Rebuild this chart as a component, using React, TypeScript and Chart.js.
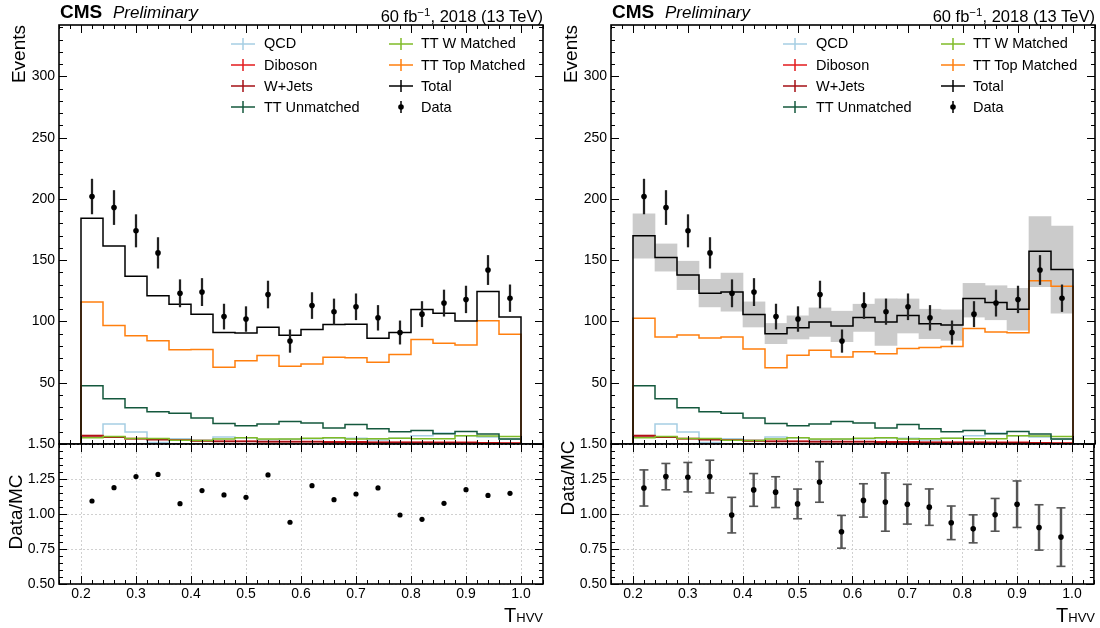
import React, { useEffect, useRef } from "react";
import { Chart, registerables } from "chart.js";

Chart.register(...registerables);

const FONT = '"Liberation Sans", Arial, Helvetica, sans-serif';

// ---------------- data ----------------
const binEdges = [0.2, 0.24, 0.28, 0.32, 0.36, 0.4, 0.44, 0.48, 0.52, 0.56, 0.6, 0.64, 0.68, 0.72, 0.76, 0.8, 0.84, 0.88, 0.92, 0.96, 1.0];
const binCenters = [0.22, 0.26, 0.3, 0.34, 0.38, 0.42, 0.46, 0.5, 0.54, 0.58, 0.62, 0.66, 0.7, 0.74, 0.78, 0.82, 0.86, 0.9, 0.94, 0.98];

const dataCounts = [202, 193, 174, 156, 123, 124, 104, 102, 122, 84, 113, 108, 112, 103, 91, 106, 115, 118, 142, 119];
const dataErr = [14.2, 13.9, 13.2, 12.5, 11.1, 11.1, 10.2, 10.1, 11.0, 9.2, 10.6, 10.4, 10.6, 10.1, 9.5, 10.3, 10.7, 10.9, 11.9, 10.9];

const qcd = [7.0, 16.3, 9.8, 1.3, 4.3, 3.0, 5.7, 5.0, 3.5, 3.8, 4.3, 4.9, 4.6, 3.3, 4.6, 6.8, 9.0, 6.8, 5.7, 3.8];
const diboson = [7.0, 5.8, 4.5, 4.0, 3.2, 2.8, 2.2, 2.2, 2.0, 2.0, 2.0, 1.8, 1.8, 1.5, 1.5, 1.5, 1.4, 1.4, 1.0, 0.8];
const wjets = [6.5, 5.5, 4.2, 3.5, 3.0, 2.5, 2.0, 2.0, 1.8, 1.8, 1.8, 1.5, 1.5, 1.2, 1.2, 1.2, 1.0, 1.0, 0.6, 0.5];
const ttUnmatched = [47.5, 36.9, 29.6, 26.3, 25.2, 21.2, 16.8, 14.9, 16.3, 18.4, 17.1, 13.0, 16.0, 12.5, 10.0, 11.1, 8.4, 10.3, 8.1, 4.1];
const ttWMatched = [5.0, 6.2, 4.5, 4.5, 3.0, 2.8, 4.0, 5.2, 4.0, 4.0, 4.6, 5.2, 4.0, 4.3, 4.6, 4.3, 4.3, 6.8, 6.5, 6.2];

// left panel
const ttTopLeft = [116.0, 96.7, 88.3, 84.2, 76.9, 77.1, 62.7, 67.9, 72.2, 63.5, 65.2, 70.9, 70.3, 66.8, 73.0, 85.2, 82.3, 80.9, 100.7, 89.6];
const totalLeft = [184.2, 161.6, 136.9, 121.1, 114.1, 105.9, 91.0, 90.7, 95.3, 88.8, 93.4, 97.5, 97.8, 86.4, 91.0, 109.8, 106.8, 100.3, 124.5, 103.6];
const ratioLeft = [1.093, 1.188, 1.267, 1.283, 1.074, 1.167, 1.136, 1.119, 1.279, 0.941, 1.202, 1.102, 1.143, 1.186, 0.993, 0.962, 1.076, 1.174, 1.133, 1.148];

// right panel
const ttTopRight = [102.7, 87.3, 88.9, 86.5, 87.3, 77.6, 62.2, 72.4, 76.5, 71.1, 75.2, 73.6, 77.9, 78.7, 79.5, 94.3, 91.4, 90.8, 133.3, 128.7];
const totalRight = [170.0, 152.2, 137.9, 123.0, 124.1, 105.7, 90.0, 94.9, 99.5, 96.3, 103.3, 99.5, 104.9, 98.1, 97.1, 118.7, 115.4, 110.0, 157.3, 142.5];
const bandHiRight = [187.9, 163.3, 149.2, 134.4, 139.5, 116.0, 98.4, 104.6, 111.1, 108.4, 114.1, 118.4, 118.4, 110.0, 109.5, 131.1, 129.2, 127.1, 185.7, 177.9];
const bandLoRight = [151.7, 141.1, 126.0, 111.9, 108.4, 95.5, 81.9, 85.7, 87.8, 83.5, 91.9, 80.5, 90.6, 86.0, 84.6, 103.6, 101.4, 93.0, 128.4, 106.8];
const ratioRight = [1.186, 1.267, 1.263, 1.267, 0.992, 1.172, 1.156, 1.072, 1.229, 0.873, 1.097, 1.085, 1.07, 1.049, 0.937, 0.894, 0.994, 1.07, 0.904, 0.835];
const ratioRightErr = [0.129, 0.094, 0.105, 0.117, 0.127, 0.117, 0.11, 0.106, 0.145, 0.117, 0.119, 0.208, 0.142, 0.13, 0.12, 0.1, 0.117, 0.166, 0.162, 0.209];

// ticks
const xTickValues = [0.2, 0.3, 0.4, 0.5, 0.6, 0.7, 0.8, 0.9, 1.0];
const mainYTickValues = [0, 50, 100, 150, 200, 250, 300];
const ratioYTickValues = [0.5, 0.75, 1.0, 1.25, 1.5];

// ---------------- styles ----------------
const COLORS = {
  qcd: "#a6cee3",
  diboson: "#e31a1c",
  wjets: "#a50f15",
  ttUnmatched: "#14583d",
  ttW: "#7fbb27",
  ttTop: "#ff7f0e",
  total: "#000000",
  band: "#cbcbcb",
};

const X_MIN = 0.16;
const X_MAX = 1.04;
const OX_RIGHT = 552;

function stepDataset(vals: number[], color: string, order: number) {
  const pts: { x: number; y: number }[] = [{ x: binEdges[0], y: 0 }];
  vals.forEach((v, i) => pts.push({ x: binEdges[i], y: v }));
  pts.push({ x: binEdges[binEdges.length - 1], y: vals[vals.length - 1] });
  pts.push({ x: binEdges[binEdges.length - 1], y: 0 });
  return {
    type: "line",
    data: pts,
    borderColor: color,
    borderWidth: 1.5,
    pointRadius: 0,
    fill: false,
    stepped: "before",
    order,
  };
}

const decorPlugin = {
  id: "decor",
  beforeDatasetsDraw(chart: any, _args: any, opts: any) {
    if (!opts || !opts.grid) return;
    const { ctx, chartArea: a, scales } = chart;
    const xs = scales.x;
    const ys = scales.y;
    ctx.save();
    ctx.strokeStyle = "#d0d0d0";
    ctx.lineWidth = 1;
    ctx.setLineDash([2, 2]);
    xTickValues.forEach((v) => {
      const px = Math.round(xs.getPixelForValue(v)) + 0.5;
      ctx.beginPath();
      ctx.moveTo(px, a.top);
      ctx.lineTo(px, a.bottom);
      ctx.stroke();
    });
    ratioYTickValues.forEach((v) => {
      const py = Math.round(ys.getPixelForValue(v)) + 0.5;
      ctx.beginPath();
      ctx.moveTo(a.left, py);
      ctx.lineTo(a.right, py);
      ctx.stroke();
    });
    ctx.restore();
  },
  afterDatasetsDraw(chart: any, _args: any, opts: any) {
    const { ctx, chartArea: a, scales } = chart;
    const xs = scales.x;
    const ys = scales.y;
    ctx.save();
    ctx.strokeStyle = "#000";
    ctx.lineWidth = 1;
    const isMajor = (v: number, major: number) => Math.abs(v / major - Math.round(v / major)) < 1e-6;
    const MAJ = 8;
    const MIN = 4;
    for (let i = Math.ceil(xs.min / opts.xMinor - 1e-6); i * opts.xMinor <= xs.max + 1e-9; i++) {
      const v = i * opts.xMinor;
      const len = isMajor(v, opts.xMajor) ? MAJ : MIN;
      const px = Math.round(xs.getPixelForValue(v)) + 0.5;
      ctx.beginPath();
      ctx.moveTo(px, a.bottom);
      ctx.lineTo(px, a.bottom - len);
      ctx.moveTo(px, a.top);
      ctx.lineTo(px, a.top + len);
      ctx.stroke();
    }
    for (let i = Math.ceil(ys.min / opts.yMinor - 1e-6); i * opts.yMinor <= ys.max + 1e-9; i++) {
      const v = i * opts.yMinor;
      const len = isMajor(v, opts.yMajor) ? MAJ : MIN;
      const py = Math.round(ys.getPixelForValue(v)) + 0.5;
      ctx.beginPath();
      ctx.moveTo(a.left, py);
      ctx.lineTo(a.left + len, py);
      ctx.moveTo(a.right, py);
      ctx.lineTo(a.right - len, py);
      ctx.stroke();
    }
    ctx.lineWidth = 1.6;
    ctx.strokeRect(a.left, a.top, a.right - a.left, a.bottom - a.top);
    ctx.restore();
  },
};

const tickFont = { family: FONT, size: 14 };

function MainChart({ ox, total, top, bandHi, bandLo }: any) {
  const ref = useRef<HTMLCanvasElement>(null);
  useEffect(() => {
    const datasets: any[] = [];
    if (bandHi && bandLo) {
      datasets.push({
        type: "bar",
        data: binCenters.map((x, i) => ({ x, y: [bandLo[i], bandHi[i]] })),
        backgroundColor: COLORS.band,
        borderWidth: 0,
        barPercentage: 1,
        categoryPercentage: 1,
        grouped: false,
        order: 30,
      });
    }
    datasets.push(stepDataset(qcd, COLORS.qcd, 20));
    datasets.push(stepDataset(diboson, COLORS.diboson, 19));
    datasets.push(stepDataset(wjets, COLORS.wjets, 18));
    datasets.push(stepDataset(ttWMatched, COLORS.ttW, 17));
    datasets.push(stepDataset(ttUnmatched, COLORS.ttUnmatched, 16));
    datasets.push(stepDataset(top, COLORS.ttTop, 15));
    datasets.push(stepDataset(total, COLORS.total, 10));
    datasets.push({
      type: "bar",
      data: binCenters.map((x, i) => ({ x, y: [dataCounts[i] - dataErr[i], dataCounts[i] + dataErr[i]] })),
      backgroundColor: "#222",
      borderWidth: 0,
      barThickness: 1.6,
      grouped: false,
      order: 5,
    });
    datasets.push({
      type: "scatter",
      data: binCenters.map((x, i) => ({ x, y: dataCounts[i] })),
      pointRadius: 2.8,
      pointBackgroundColor: "#000",
      pointBorderWidth: 0,
      order: 1,
    });
    const chart = new Chart(ref.current as HTMLCanvasElement, {
      type: "scatter",
      data: { datasets },
      options: {
        animation: false,
        responsive: false,
        maintainAspectRatio: false,
        events: [],
        layout: { padding: { left: 0, top: 25, right: 5, bottom: 16 } },
        plugins: {
          legend: { display: false },
          tooltip: { enabled: false },
          decor: { xMinor: 0.02, xMajor: 0.1, yMinor: 10, yMajor: 50, grid: false },
        },
        scales: {
          x: { type: "linear", min: X_MIN, max: X_MAX, offset: false, display: false },
          y: {
            type: "linear",
            min: 0,
            max: 342,
            afterFit: (s: any) => {
              s.width = 59;
            },
            afterBuildTicks: (s: any) => {
              s.ticks = mainYTickValues.map((v) => ({ value: v }));
            },
            grid: { display: false, drawTicks: false },
            border: { display: false },
            ticks: {
              padding: 4,
              color: "#000",
              font: tickFont,
              callback: (v: any) => (v === 0 ? "" : String(v)),
            },
          },
        },
      } as any,
      plugins: [decorPlugin as any],
    } as any);
    return () => chart.destroy();
  }, []);
  return (
    <canvas
      ref={ref}
      width={548}
      height={460}
      style={{ position: "absolute", left: ox, top: 0, width: 548, height: 460 }}
    />
  );
}

function RatioChart({ ox, ratio, ratioErr }: any) {
  const ref = useRef<HTMLCanvasElement>(null);
  useEffect(() => {
    const datasets: any[] = [];
    if (ratioErr) {
      datasets.push({
        type: "bar",
        data: binCenters.map((x, i) => ({ x, y: [ratio[i] - ratioErr[i], ratio[i] + ratioErr[i]] })),
        backgroundColor: "#555",
        borderWidth: 0,
        barThickness: 1.8,
        grouped: false,
        order: 5,
      });
      datasets.push({
        type: "scatter",
        data: binCenters
          .map((x, i) => ({ x, y: ratio[i] + ratioErr[i] }))
          .concat(binCenters.map((x, i) => ({ x, y: ratio[i] - ratioErr[i] }))),
        pointStyle: "line",
        pointRadius: 4.5,
        pointBorderColor: "#555",
        pointBorderWidth: 1.6,
        order: 4,
      });
    }
    datasets.push({
      type: "scatter",
      data: binCenters.map((x, i) => ({ x, y: ratio[i] })),
      pointRadius: ratioErr ? 2.8 : 2.6,
      pointBackgroundColor: "#000",
      pointBorderWidth: 0,
      order: 1,
    });
    const chart = new Chart(ref.current as HTMLCanvasElement, {
      type: "scatter",
      data: { datasets },
      options: {
        animation: false,
        responsive: false,
        maintainAspectRatio: false,
        events: [],
        layout: { padding: { left: 0, top: 14, right: 5, bottom: 0 } },
        plugins: {
          legend: { display: false },
          tooltip: { enabled: false },
          decor: { xMinor: 0.02, xMajor: 0.1, yMinor: 0.05, yMajor: 0.25, grid: true },
        },
        scales: {
          x: {
            type: "linear",
            min: X_MIN,
            max: X_MAX,
            offset: false,
            afterFit: (s: any) => {
              s.height = 44;
            },
            afterBuildTicks: (s: any) => {
              s.ticks = xTickValues.map((v) => ({ value: v }));
            },
            grid: { display: false, drawTicks: false, offset: false },
            border: { display: false },
            ticks: {
              padding: 2,
              color: "#000",
              font: tickFont,
              maxRotation: 0,
              autoSkip: false,
              callback: (v: any) => Number(v).toFixed(1),
            },
          },
          y: {
            type: "linear",
            min: 0.5,
            max: 1.5,
            afterFit: (s: any) => {
              s.width = 59;
            },
            afterBuildTicks: (s: any) => {
              s.ticks = ratioYTickValues.map((v) => ({ value: v }));
            },
            grid: { display: false, drawTicks: false },
            border: { display: false },
            ticks: {
              padding: 4,
              color: "#000",
              font: tickFont,
              callback: (v: any) => Number(v).toFixed(2),
            },
          },
        },
      } as any,
      plugins: [decorPlugin as any],
    } as any);
    return () => chart.destroy();
  }, []);
  return (
    <canvas
      ref={ref}
      width={548}
      height={198}
      style={{ position: "absolute", left: ox, top: 430, width: 548, height: 198 }}
    />
  );
}

function Txt({ x, base, size, children, align, weight, italic }: any) {
  const st: any = {
    position: "absolute",
    top: base - 0.8465 * size,
    fontSize: size,
    lineHeight: size + "px",
    whiteSpace: "nowrap",
    fontFamily: FONT,
    color: "#000",
    fontWeight: weight || "normal",
    fontStyle: italic ? "italic" : "normal",
  };
  if (align === "right") st.right = 1100 - x;
  else st.left = x;
  return <div style={st}>{children}</div>;
}

const legendEntries = [
  { label: "QCD", color: COLORS.qcd, col: 0, row: 0 },
  { label: "Diboson", color: COLORS.diboson, col: 0, row: 1 },
  { label: "W+Jets", color: COLORS.wjets, col: 0, row: 2 },
  { label: "TT Unmatched", color: COLORS.ttUnmatched, col: 0, row: 3 },
  { label: "TT W Matched", color: COLORS.ttW, col: 1, row: 0 },
  { label: "TT Top Matched", color: COLORS.ttTop, col: 1, row: 1 },
  { label: "Total", color: COLORS.total, col: 1, row: 2 },
  { label: "Data", color: "#000", col: 1, row: 3, data: true },
];

function Legend({ ox }: any) {
  const markerX = [231, 389];
  const textX = [264, 421];
  const rowY = [43.5, 64.6, 85.7, 106.8];
  const size = 14.5;
  return (
    <>
      {legendEntries.map((e) => {
        const cy = rowY[e.row];
        return (
          <React.Fragment key={e.label}>
            <svg
              width={24}
              height={12}
              style={{ position: "absolute", left: ox + markerX[e.col], top: cy - 6 }}
            >
              {e.data ? (
                <>
                  <line x1={12} y1={0} x2={12} y2={12} stroke="#000" strokeWidth={1.5} />
                  <circle cx={12} cy={6} r={2.8} fill="#000" />
                </>
              ) : (
                <>
                  <line x1={0} y1={6} x2={24} y2={6} stroke={e.color} strokeWidth={1.5} />
                  <line x1={12} y1={0} x2={12} y2={12} stroke={e.color} strokeWidth={1.5} />
                </>
              )}
            </svg>
            <Txt x={ox + textX[e.col]} base={cy + 0.358 * size} size={size}>
              {e.label}
            </Txt>
          </React.Fragment>
        );
      })}
    </>
  );
}

function Panel({ ox, total, top, ratio, ratioErr, bandHi, bandLo, dataMcY }: any) {
  return (
    <>
      <MainChart ox={ox} total={total} top={top} bandHi={bandHi} bandLo={bandLo} />
      <RatioChart ox={ox} ratio={ratio} ratioErr={ratioErr} />
      <Txt x={ox + 60} base={18.3} size={19} weight="bold">
        CMS
      </Txt>
      <Txt x={ox + 113} base={18.3} size={17} italic>
        Preliminary
      </Txt>
      <Txt x={ox + 543} base={18.3} size={16.5} align="right">
        60 fb<span style={{ fontSize: 11.5, verticalAlign: 6 }}>−1</span>, 2018 (13 TeV)
      </Txt>
      <Legend ox={ox} />
      <div
        style={{
          position: "absolute",
          left: ox + 19 - 100,
          top: 25 - 10,
          width: 100,
          height: 20,
          lineHeight: "20px",
          fontSize: 19,
          fontFamily: FONT,
          textAlign: "right",
          whiteSpace: "nowrap",
          transformOrigin: "100% 50%",
          transform: "rotate(-90deg)",
        }}
      >
        Events
      </div>
      <div
        style={{
          position: "absolute",
          left: ox + 16 - 60,
          top: dataMcY - 10,
          width: 120,
          height: 20,
          lineHeight: "20px",
          fontSize: 19,
          fontFamily: FONT,
          textAlign: "center",
          whiteSpace: "nowrap",
          transformOrigin: "50% 50%",
          transform: "rotate(-90deg)",
        }}
      >
        Data/MC
      </div>
      <Txt x={ox + 543} base={622} size={20} align="right">
        T<span style={{ fontSize: 13 }}>HVV</span>
      </Txt>
    </>
  );
}

export default function App() {
  return (
    <div
      style={{
        position: "absolute",
        left: 0,
        top: 0,
        width: 1100,
        height: 628,
        overflow: "hidden",
        background: "#fff",
      }}
    >
      <Panel ox={0} total={totalLeft} top={ttTopLeft} ratio={ratioLeft} dataMcY={512} />
      <Panel
        ox={OX_RIGHT}
        total={totalRight}
        top={ttTopRight}
        ratio={ratioRight}
        ratioErr={ratioRightErr}
        bandHi={bandHiRight}
        bandLo={bandLoRight}
        dataMcY={478}
      />
    </div>
  );
}
